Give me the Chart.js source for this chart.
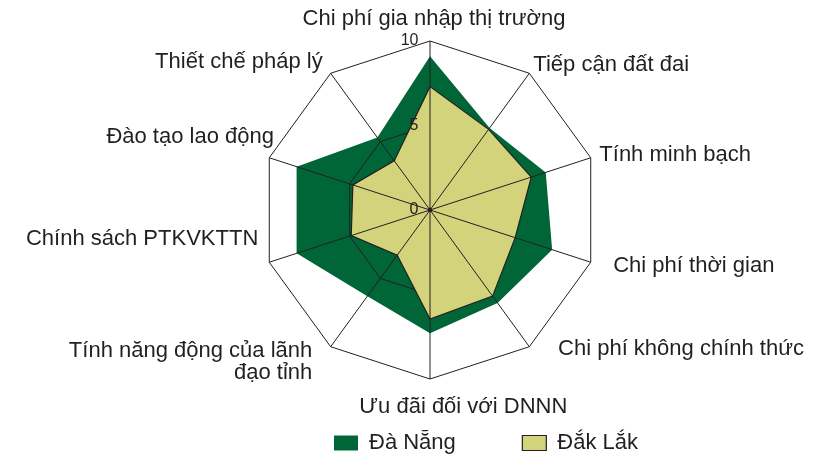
<!DOCTYPE html>
<html>
<head>
<meta charset="utf-8">
<script src="https://cdn.jsdelivr.net/npm/chart.js@4/dist/chart.umd.min.js"></script>
<style>
  html, body { margin: 0; padding: 0; background: #ffffff; }
  canvas { display: block; }
</style>
</head>
<body>
<canvas id="c" width="827" height="458"></canvas>
<script>
// ---- data ----
const categories = [
  'Chi phí gia nhập thị trường',
  'Tiếp cận đất đai',
  'Tính minh bạch',
  'Chi phí thời gian',
  'Chi phí không chính thức',
  'Ưu đãi đối với DNNN',
  ['Tính năng động của lãnh', 'đạo tỉnh'],
  'Chính sách PTKVKTTN',
  'Đào tạo lao động',
  'Thiết chế pháp lý'
];
const seriesNames = ['Đà Nẵng', 'Đắk Lắk'];
const daNang = [9.1, 6.0, 7.2, 7.6, 6.8, 7.3, 6.3, 8.3, 8.3, 5.3];
const dakLak = [7.3, 5.9, 6.3, 5.3, 6.3, 6.45, 3.3, 4.9, 4.8, 3.6];
const tickValues = [0, 5, 10];

// ---- styling / layout ----
const INK = '#231f20';
const GREEN = '#006637';
const OLIVE = '#d3d37c';
const FONT = '"Liberation Sans", Arial, Helvetica, sans-serif';
const LEGEND_PAD = 66.5;

// label alignment and pixel nudges relative to each outer vertex
const labelPlacement = [
  { align: 'center', dx: 4,    dy: -16 },
  { align: 'left',   dx: 4,    dy: -2.3 },
  { align: 'left',   dx: 8.6,  dy: 3 },
  { align: 'left',   dx: 22.5, dy: 9.5 },
  { align: 'left',   dx: 28.7, dy: 8.3 },
  { align: 'center', dx: 33.3, dy: 34.3 },
  { align: 'right',  dx: -18.4, dy: 10 },
  { align: 'right',  dx: -11,  dy: -17.2 },
  { align: 'right',  dx: 4.7,  dy: -14.5 },
  { align: 'right',  dx: -8,   dy: -5.6 }
];

const radarDecor = {
  id: 'radarDecor',
  afterLayout(chart) {
    const lg = chart.legend;
    if (lg) {
      lg.top = 432 - LEGEND_PAD;
      lg.bottom = chart.height;
      lg.height = lg.bottom - lg.top;
      lg.left = 334 - LEGEND_PAD;
      lg.width = lg.right - lg.left;
    }
  },
  afterDatasetDraw(chart, args) {
    // mid ring drawn over the larger series but under the smaller one
    if (args.index !== 0) return;
    const s = chart.scales.r;
    const ctx = chart.ctx;
    const d = s.getDistanceFromCenterForValue(tickValues[1]);
    ctx.save();
    ctx.strokeStyle = INK;
    ctx.lineWidth = 1;
    ctx.beginPath();
    for (let i = 0; i < categories.length; i++) {
      const p = s.getPointPosition(i, d);
      if (i === 0) ctx.moveTo(p.x, p.y); else ctx.lineTo(p.x, p.y);
    }
    ctx.closePath();
    ctx.stroke();
    ctx.restore();
  },
  afterDatasetsDraw(chart) {
    const s = chart.scales.r;
    const ctx = chart.ctx;
    const n = categories.length;
    const outer = s.getDistanceFromCenterForValue(tickValues[tickValues.length - 1]);
    ctx.save();
    ctx.strokeStyle = INK;
    ctx.lineWidth = 1;
    // spokes
    for (let i = 0; i < n; i++) {
      const p = s.getPointPosition(i, outer);
      ctx.beginPath();
      ctx.moveTo(s.xCenter, s.yCenter);
      ctx.lineTo(p.x, p.y);
      ctx.stroke();
    }
    // outer ring
    ctx.beginPath();
    for (let i = 0; i < n; i++) {
      const p = s.getPointPosition(i, outer);
      if (i === 0) ctx.moveTo(p.x, p.y); else ctx.lineTo(p.x, p.y);
    }
    ctx.closePath();
    ctx.stroke();
    // centre dot
    ctx.fillStyle = INK;
    ctx.beginPath();
    ctx.arc(s.xCenter, s.yCenter, 2.3, 0, Math.PI * 2);
    ctx.fill();
    // tick labels
    ctx.font = '16px ' + FONT;
    ctx.textAlign = 'right';
    ctx.textBaseline = 'middle';
    tickValues.forEach(v => {
      const y = s.yCenter - s.getDistanceFromCenterForValue(v);
      ctx.fillText(String(v), s.xCenter - 11.5, y);
    });
    // category labels
    ctx.font = '22px ' + FONT;
    ctx.textBaseline = 'alphabetic';
    for (let i = 0; i < n; i++) {
      const p = s.getPointPosition(i, outer);
      const pl = labelPlacement[i];
      ctx.textAlign = pl.align;
      const lines = Array.isArray(categories[i]) ? categories[i] : [categories[i]];
      lines.forEach((t, k) => {
        ctx.fillText(t, p.x + pl.dx, p.y + pl.dy + k * 22.5);
      });
    }
    ctx.restore();
  }
};

new Chart(document.getElementById('c'), {
  type: 'radar',
  data: {
    labels: categories,
    datasets: [
      {
        label: seriesNames[0],
        data: daNang,
        backgroundColor: GREEN,
        borderColor: GREEN,
        borderWidth: 0,
        pointRadius: 0,
        pointHoverRadius: 0,
        fill: true,
        order: 1
      },
      {
        label: seriesNames[1],
        data: dakLak,
        backgroundColor: OLIVE,
        borderColor: INK,
        borderWidth: 1.2,
        pointRadius: 0,
        pointHoverRadius: 0,
        fill: true,
        order: 0
      }
    ]
  },
  options: {
    responsive: false,
    animation: false,
    layout: { padding: { top: 41, left: 92, right: 59, bottom: 0 } },
    elements: { line: { tension: 0 } },
    scales: {
      r: {
        min: 0,
        max: 10,
        ticks: { display: false, stepSize: 5 },
        grid: { display: false },
        angleLines: { display: false },
        pointLabels: { display: false }
      }
    },
    plugins: {
      tooltip: { enabled: false },
      legend: {
        position: 'bottom',
        align: 'start',
        reverse: true,
        maxHeight: 79,
        labels: {
          color: INK,
          font: { family: FONT, size: 22 },
          boxWidth: 24,
          boxHeight: 15,
          padding: LEGEND_PAD
        }
      }
    }
  },
  plugins: [radarDecor]
});
</script>
</body>
</html>
